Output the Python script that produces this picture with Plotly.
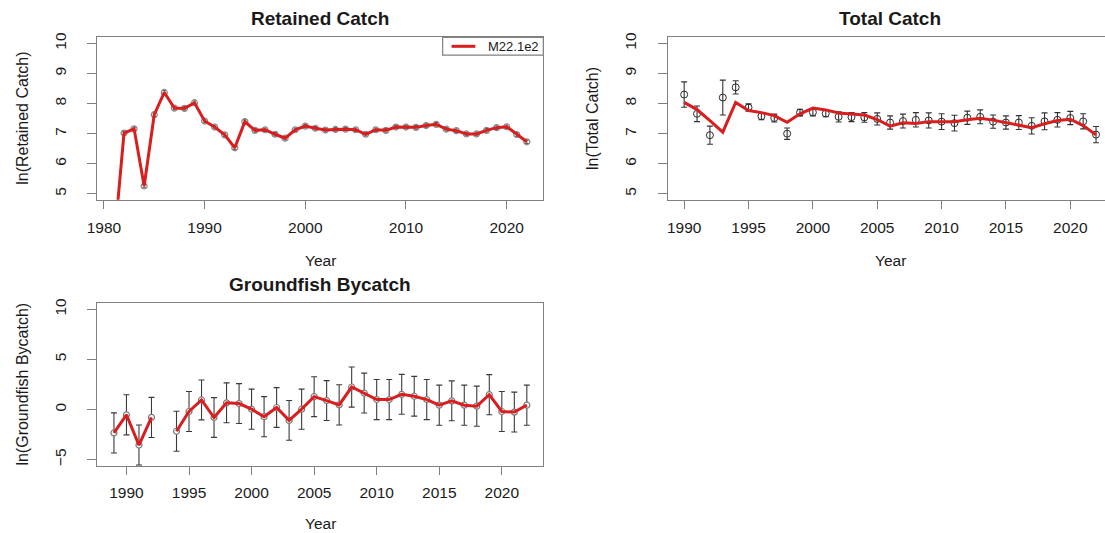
import plotly.graph_objects as go

# ---- data -------------------------------------------------------------
ret_years = list(range(1981, 2023))
ret_obs = [3.30, 7.02, 7.16, 5.26, 7.63, 8.37, 7.85, 7.84, 8.03, 7.42,
           7.22, 6.96, 6.53, 7.40, 7.11, 7.13, 6.98, 6.85, 7.13, 7.25,
           7.18, 7.12, 7.14, 7.15, 7.13, 6.98, 7.13, 7.11, 7.22, 7.22,
           7.21, 7.27, 7.31, 7.15, 7.10, 6.99, 6.99, 7.11, 7.20, 7.23,
           6.97, 6.73]
ret_err = [0.06] * len(ret_years)
ret_pred = ret_obs

tot_years = list(range(1990, 2023))
tot_obs = [8.30, 7.66, 6.95, 8.20, 8.54, 7.87, 7.58, 7.52, 7.00, 7.70,
           7.71, 7.67, 7.56, 7.55, 7.54, 7.49, 7.37, 7.42, 7.46, 7.44,
           7.40, 7.35, 7.53, 7.56, 7.40, 7.37, 7.37, 7.26, 7.41, 7.46,
           7.52, 7.41, 6.97]
tot_err = [0.42, 0.26, 0.30, 0.58, 0.22, 0.12, 0.12, 0.13, 0.19, 0.11,
           0.12, 0.11, 0.17, 0.15, 0.16, 0.20, 0.22, 0.23, 0.24, 0.25,
           0.26, 0.26, 0.22, 0.23, 0.22, 0.22, 0.23, 0.27, 0.28, 0.24,
           0.22, 0.25, 0.27]
tot_pred = [8.04, 7.80, 7.43, 7.05, 8.04, 7.77, 7.70, 7.60, 7.38, 7.66,
            7.85, 7.79, 7.69, 7.66, 7.62, 7.47, 7.25, 7.36, 7.34, 7.40,
            7.40, 7.40, 7.46, 7.51, 7.45, 7.37, 7.27, 7.20, 7.33, 7.44,
            7.48, 7.27, 6.96]

gf_years = list(range(1989, 2023))
gf_obs = [-2.34, -0.53, -3.55, -0.79, None, -2.17, -0.20, 0.95, -0.80, 0.66,
          0.59, 0.03, -0.72, 0.20, -1.09, 0.03, 1.28, 0.89, 0.46, 2.24,
          1.64, 0.99, 0.99, 1.51, 1.32, 0.99, 0.43, 0.86, 0.43, 0.33,
          1.48, -0.20, -0.26, 0.43]
gf_err = [2.0, 2.0, 2.0, 2.0, None, 2.0, 2.0, 1.99, 1.98, 1.99,
          1.99, 2.0, 2.0, 1.98, 1.98, 2.0, 1.99, 1.99, 2.0, 2.0,
          1.99, 2.0, 2.0, 1.99, 1.98, 2.0, 2.0, 1.99, 2.0, 2.0,
          2.0, 1.99, 1.99, 2.0]
gf_pred = gf_obs

series_name = "M22.1e2"

# ---- styling ----------------------------------------------------------
W, H = 1105, 533
FONT = "Liberation Sans, Arial, sans-serif"
TXT = "#1a1a1a"
BOX = "#808080"
RED = "#d81e1e"


def px_x(p):
    return p / W


def px_y(p):
    return 1 - p / H


fig = go.Figure()

# Retained catch
fig.add_trace(go.Scatter(
    x=ret_years, y=ret_obs, mode="markers", xaxis="x", yaxis="y",
    marker=dict(symbol="circle-open", size=6, color="#8a8a8a", line=dict(width=1.2)),
    error_y=dict(type="data", array=ret_err, color="#555555", thickness=1, width=2),
    showlegend=False, hoverinfo="skip"))
fig.add_trace(go.Scatter(
    x=ret_years, y=ret_pred, mode="lines", xaxis="x", yaxis="y",
    line=dict(color=RED, width=3), name=series_name, showlegend=False))

# Total catch
fig.add_trace(go.Scatter(
    x=tot_years, y=tot_obs, mode="markers", xaxis="x2", yaxis="y2",
    marker=dict(symbol="circle-open", size=7, color="#2a2a2a", line=dict(width=1)),
    error_y=dict(type="data", array=tot_err, color="#333333", thickness=1.1, width=3),
    showlegend=False, hoverinfo="skip"))
fig.add_trace(go.Scatter(
    x=tot_years, y=tot_pred, mode="lines", xaxis="x2", yaxis="y2",
    line=dict(color=RED, width=3), showlegend=False))

# Groundfish bycatch
fig.add_trace(go.Scatter(
    x=gf_years, y=gf_obs, mode="markers", xaxis="x3", yaxis="y3",
    marker=dict(symbol="circle", size=6, color="white", line=dict(width=1.2, color="#7a7a7a")),
    error_y=dict(type="data", array=gf_err, color="#3a3a3a", thickness=1.1, width=3),
    showlegend=False, hoverinfo="skip"))
fig.add_trace(go.Scatter(
    x=gf_years, y=gf_pred, mode="lines", xaxis="x3", yaxis="y3",
    line=dict(color=RED, width=3), showlegend=False))

# panel boxes in pixels: (left, right, top, bottom)
p1 = (87.3, 537.7, 32.7, 196.7)
p2 = (663.3, 1105.0, 32.7, 196.7)
p3 = (87.3, 537.7, 301.0, 465.0)

tickfont = dict(family=FONT, size=15.5, color=TXT)


def xax(box, rng, tickvals, anchor, mirror=True):
    return dict(domain=[px_x(box[0]), px_x(box[1])], range=rng, anchor=anchor,
                tickvals=tickvals, ticks="outside", ticklen=8, tickwidth=1.2,
                tickcolor=BOX, showline=True, linecolor=BOX, linewidth=1.3,
                mirror=mirror, showgrid=False, zeroline=False,
                tickfont=tickfont, ticklabelstandoff=5)


def yax(box, rng, tickvals, anchor, mirror=True):
    return dict(domain=[px_y(box[3]), px_y(box[2])], range=rng, anchor=anchor,
                tickvals=tickvals, ticks="outside", ticklen=9, tickwidth=1.2,
                tickcolor=BOX, showline=True, linecolor=BOX, linewidth=1.3,
                mirror=mirror, showgrid=False, zeroline=False,
                tickangle=-90, tickfont=tickfont, ticklabelstandoff=15)


fig.update_layout(
    width=W, height=H, margin=dict(l=0, r=0, t=0, b=0),
    paper_bgcolor="white", plot_bgcolor="white",
    font=dict(family=FONT, color=TXT),
    showlegend=False,
    xaxis=xax(p1, [1979.36, 2023.64], [1980, 1990, 2000, 2010, 2020], "y"),
    yaxis=yax(p1, [4.8, 10.2], [5, 6, 7, 8, 9, 10], "x"),
    xaxis2=xax(p2, [1988.72, 1988.72 + (p2[1] - p2[0]) / 13.0],
               [1990, 1995, 2000, 2005, 2010, 2015, 2020], "y2"),
    yaxis2=yax(p2, [4.8, 10.2], [5, 6, 7, 8, 9, 10], "x2", mirror=False),
    xaxis3=xax(p3, [1987.68, 2023.32], [1990, 1995, 2000, 2005, 2010, 2015, 2020], "y3"),
    yaxis3=yax(p3, [-5.6, 10.6], [-5, 0, 5, 10], "x3"),
)

annotations = []
panels = [
    (p1, "Retained Catch", "ln(Retained Catch)", 312.5, 524.0 - 266.0),
    (p2, "Total Catch", "ln(Total Catch)", 888.0, 258.0),
    (p3, "Groundfish Bycatch", "ln(Groundfish Bycatch)", 312.5, 523.0),
]
for box, title, ylab, cx, year_y in panels:
    annotations.append(dict(text="<b>%s</b>" % title, x=px_x(cx), y=px_y(box[2] - 19),
                            xref="paper", yref="paper", showarrow=False,
                            xanchor="center", yanchor="middle",
                            font=dict(family=FONT, size=19, color=TXT)))
    annotations.append(dict(text="Year", x=px_x(cx), y=px_y(year_y),
                            xref="paper", yref="paper", showarrow=False,
                            xanchor="center", yanchor="middle",
                            font=dict(family=FONT, size=15.5, color=TXT)))
    annotations.append(dict(text=ylab, x=px_x(box[0] - 76), y=px_y((box[2] + box[3]) / 2),
                            xref="paper", yref="paper", showarrow=False, textangle=-90,
                            xanchor="center", yanchor="middle",
                            font=dict(family=FONT, size=16, color=TXT)))

# legend for the fitted series, boxed in the top-right corner of the first panel
leg = (436.0, p1[1], p1[2], 50.7)
shapes = [
    dict(type="rect", xref="paper", yref="paper",
         x0=px_x(leg[0]), x1=px_x(leg[1]), y0=px_y(leg[3]), y1=px_y(leg[2]),
         line=dict(color=BOX, width=1.2), fillcolor="white", layer="above"),
    dict(type="line", xref="paper", yref="paper",
         x0=px_x(445), x1=px_x(469), y0=px_y(41.7), y1=px_y(41.7),
         line=dict(color=RED, width=3), layer="above"),
]
annotations.append(dict(text=series_name, x=px_x(480), y=px_y(41.7),
                        xref="paper", yref="paper", showarrow=False,
                        xanchor="left", yanchor="middle",
                        font=dict(family=FONT, size=13, color=TXT)))
fig.update_layout(annotations=annotations, shapes=shapes)

fig.write_html("out.html")
